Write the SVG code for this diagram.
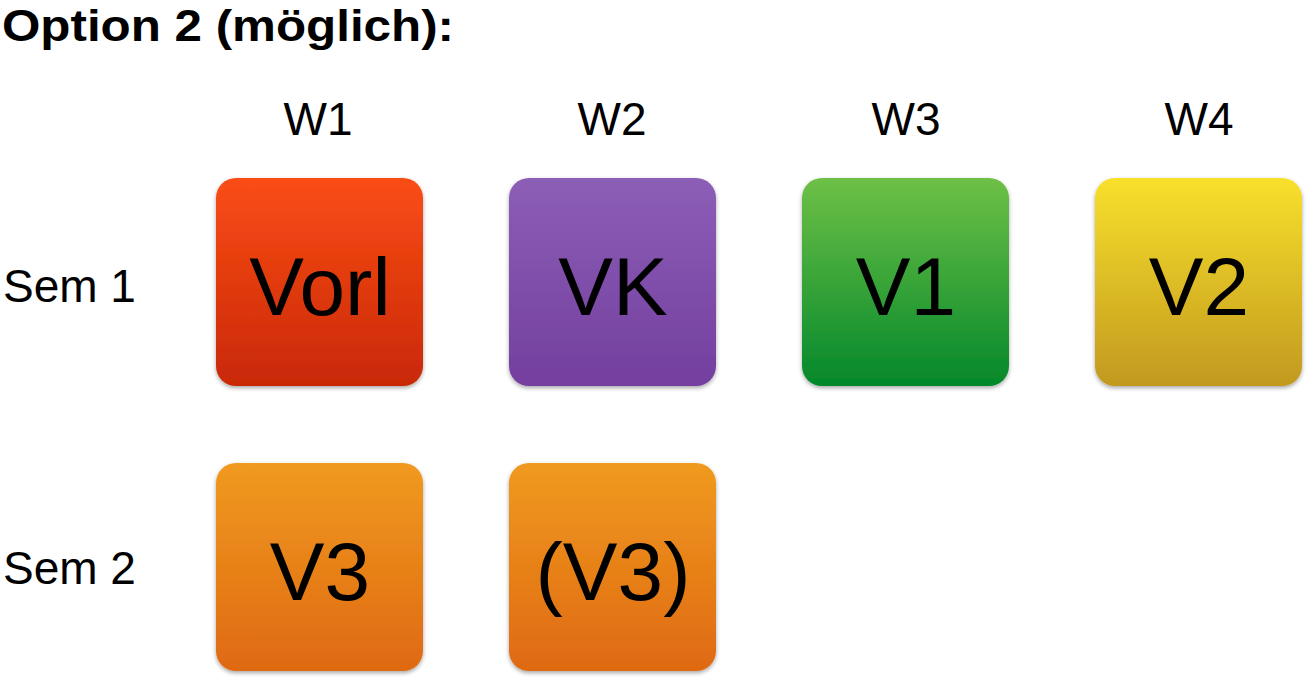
<svg xmlns="http://www.w3.org/2000/svg" width="1308" height="679" viewBox="0 0 1308 679">
<defs>
<linearGradient id="gRed" x1="0" y1="0" x2="0" y2="1"><stop offset="0" stop-color="#FA4D17"/><stop offset="1" stop-color="#C92806"/></linearGradient>
<linearGradient id="gPurple" x1="0" y1="0" x2="0" y2="1"><stop offset="0" stop-color="#8C5EB6"/><stop offset="1" stop-color="#733F9F"/></linearGradient>
<linearGradient id="gGreen" x1="0" y1="0" x2="0" y2="1"><stop offset="0" stop-color="#6EC046"/><stop offset="1" stop-color="#03882B"/></linearGradient>
<linearGradient id="gYellow" x1="0" y1="0" x2="0" y2="1"><stop offset="0" stop-color="#F8E02C"/><stop offset="1" stop-color="#C2991F"/></linearGradient>
<linearGradient id="gOrange" x1="0" y1="0" x2="0" y2="1"><stop offset="0" stop-color="#F09A20"/><stop offset="1" stop-color="#DF6911"/></linearGradient>
<filter id="sh" x="-10%" y="-10%" width="120%" height="125%"><feDropShadow dx="0" dy="2" stdDeviation="2" flood-color="#000" flood-opacity="0.35"/></filter>
</defs>
<style>
.title{font-family:"Liberation Sans",Arial,sans-serif;font-weight:bold;font-size:44px;fill:#000}
.lbl{font-family:"Liberation Sans",Arial,sans-serif;font-size:46px;fill:#000}
.box{filter:url(#sh)}
.bt{font-family:"Liberation Sans",Arial,sans-serif;font-size:82px;fill:#000;text-anchor:middle}
</style>
<rect width="1308" height="679" fill="#fff"/>
<text class="title" x="2" y="41" textLength="452" lengthAdjust="spacingAndGlyphs">Option 2 (möglich):</text>
<g id="headers">
<text class="lbl" x="318" y="135" text-anchor="middle">W1</text>
<text class="lbl" x="612" y="135" text-anchor="middle">W2</text>
<text class="lbl" x="906" y="135" text-anchor="middle">W3</text>
<text class="lbl" x="1199" y="135" text-anchor="middle">W4</text>
<text class="lbl" x="3" y="302">Sem 1</text>
<text class="lbl" x="3" y="584">Sem 2</text>
</g>
<g id="n-vorl"><rect class="box" x="216" y="178" width="207" height="208" rx="20" fill="url(#gRed)"/><text class="bt" x="320" y="315">Vorl</text></g>
<g id="n-vk"><rect class="box" x="509" y="178" width="207" height="208" rx="20" fill="url(#gPurple)"/><text class="bt" x="613" y="315">VK</text></g>
<g id="n-v1"><rect class="box" x="802" y="178" width="207" height="208" rx="20" fill="url(#gGreen)"/><text class="bt" x="906" y="315">V1</text></g>
<g id="n-v2"><rect class="box" x="1095" y="178" width="207" height="208" rx="20" fill="url(#gYellow)"/><text class="bt" x="1199" y="315">V2</text></g>
<g id="n-v3"><rect class="box" x="216" y="463" width="207" height="208" rx="20" fill="url(#gOrange)"/><text class="bt" x="320" y="600">V3</text></g>
<g id="n-v3b"><rect class="box" x="509" y="463" width="207" height="208" rx="20" fill="url(#gOrange)"/><text class="bt" x="613" y="600">(V3)</text></g>
<g id="connectors"/>
</svg>
